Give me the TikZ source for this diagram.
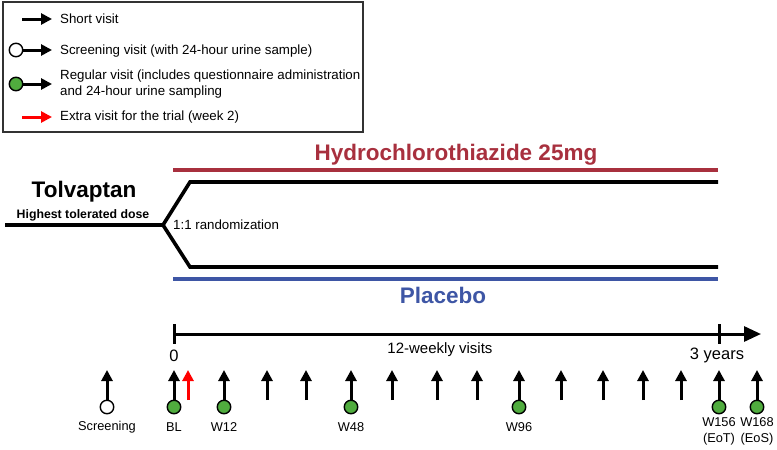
\documentclass[tikz,border=0pt]{standalone}
\usepackage{fontspec}
\setmainfont{Liberation Sans}
\usetikzlibrary{arrows.meta}
\definecolor{hctred}{RGB}{168,48,62}
\definecolor{plblue}{RGB}{62,86,165}
\definecolor{vgreen}{RGB}{80,172,62}
\definecolor{frame}{RGB}{50,50,50}
\tikzset{
  visitarrow/.style={line width=3pt, -{Triangle[length=11pt,width=11pt]}},
  extraarrow/.style={visitarrow, red},
  opencirc/.style={circle, draw=black, line width=1.4pt, fill=white, minimum size=13.5pt, inner sep=0pt},
  greencirc/.style={circle, draw=black, line width=1.4pt, fill=vgreen, minimum size=13.5pt, inner sep=0pt},
  legtext/.style={anchor=west, inner sep=0pt, font=\fontsize{13.3}{15.5}\selectfont, align=left},
  vlabel/.style={inner sep=0pt, font=\fontsize{12.8}{16}\selectfont, align=center},
  armline/.style={line width=3.6pt, line join=miter},
  bigbold/.style={inner sep=0pt, font=\fontsize{22.5}{26}\selectfont\bfseries},
  axislabel/.style={inner sep=0pt, font=\fontsize{16.5}{19}\selectfont},
}
\begin{document}
\begin{tikzpicture}[x=1pt,y=-1pt]
\useasboundingbox (0,0) rectangle (777,450);
% legend
\draw[frame, line width=1.6pt] (3,2) rectangle (363,132);
\coordinate (l1a) at (22,19); \coordinate (l1b) at (52,19);
\draw[visitarrow] (l1a) -- (l1b);
\node[legtext] (t1) at (60,19) {Short visit};
\node[opencirc] (l2c) at (16,50) {}; \coordinate (l2b) at (52,50);
\draw[visitarrow] (l2c) -- (l2b);
\node[legtext] (t2) at (60,51) {Screening visit (with 24-hour urine sample)};
\node[greencirc] (l3c) at (16,84) {}; \coordinate (l3b) at (52,84);
\draw[visitarrow] (l3c) -- (l3b);
\node[legtext] (t3) at (60,84) {Regular visit (includes questionnaire administration\\and 24-hour urine sampling};
\coordinate (l4a) at (22,117); \coordinate (l4b) at (52,117);
\draw[extraarrow] (l4a) -- (l4b);
\node[legtext] (t4) at (60,117) {Extra visit for the trial (week 2)};

% arms
\node[bigbold, text=hctred] (hct) at (456,155) {Hydrochlorothiazide 25mg};
\node[bigbold, text=plblue] (plc) at (443,295) {Placebo};
\node[bigbold] (tol) at (84,192) {Tolvaptan};
\node[inner sep=0pt, font=\fontsize{12.3}{14}\selectfont\bfseries] (hd) at (83,215) {Highest tolerated dose};
\node[anchor=west, inner sep=0pt, font=\fontsize{13.3}{15}\selectfont] (rand) at (173,225) {1:1 randomization};
\coordinate (start) at (5,225);
\coordinate (split) at (163,225);
\coordinate (up1) at (190,182); \coordinate (up2) at (718,182);
\coordinate (lo1) at (190,267); \coordinate (lo2) at (718,267);
\draw[armline] (start) -- (split) -- (up1) -- (up2);
\draw[armline] (split) -- (lo1) -- (lo2);
\coordinate (r1) at (173,170); \coordinate (r2) at (718,170);
\coordinate (b1) at (173,279); \coordinate (b2) at (718,279);
\draw[hctred, line width=3.4pt] (r1) -- (r2);
\draw[plblue, line width=3.4pt] (b1) -- (b2);

% time axis
\coordinate (ax0) at (174,334); \coordinate (axe) at (761,334);
\draw[line width=3pt, -{Triangle[length=17pt,width=15pt]}] (ax0) -- (axe);
\coordinate (t0a) at (174,324); \coordinate (t0b) at (174,344);
\coordinate (t3a) at (719,324); \coordinate (t3b) at (719,344);
\draw[line width=3pt] (t0a) -- (t0b);
\draw[line width=3pt] (t3a) -- (t3b);
\node[axislabel] (zero) at (174,356) {0};
\node[axislabel] (yrs) at (717,355) {3 years};
\node[inner sep=0pt, font=\fontsize{15}{18}\selectfont] (wk) at (440,350) {12-weekly visits};

% visits with circles
\foreach \n/\x in {scr/107} {
  \node[opencirc] (c\n) at (\x,407) {};
  \coordinate (a\n) at (\x,370);
  \draw[visitarrow] (c\n) -- (a\n);
}
\foreach \n/\x in {bl/174, w12/224, w48/351, w96/519, w156/719, w168/757} {
  \node[greencirc] (c\n) at (\x,407) {};
  \coordinate (a\n) at (\x,370);
  \draw[visitarrow] (c\n) -- (a\n);
}
% short visits
\foreach \x [count=\i] in {267,306,392,437,477,561,603,643,681} {
  \coordinate (sb\i) at (\x,400);
  \coordinate (st\i) at (\x,370);
  \draw[visitarrow] (sb\i) -- (st\i);
}
% extra visit
\coordinate (eb) at (188,400); \coordinate (et) at (188,370);
\draw[extraarrow] (eb) -- (et);

% labels
\node[vlabel] (lscr) at (107,427) {Screening};
\node[vlabel] (lbl) at (174,427) {BL};
\node[vlabel] (lw12) at (224,427) {W12};
\node[vlabel] (lw48) at (351,427) {W48};
\node[vlabel] (lw96) at (519,427) {W96};
\node[vlabel] (lw156) at (719,431) {W156\\(EoT)};
\node[vlabel] (lw168) at (757,431) {W168\\(EoS)};
\end{tikzpicture}
\end{document}
